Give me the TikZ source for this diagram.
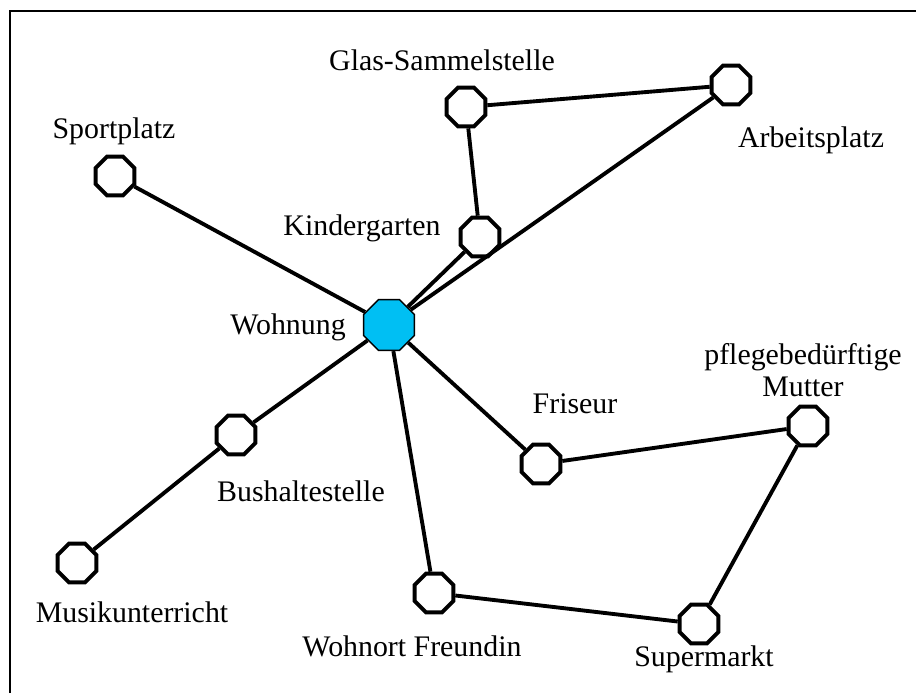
\documentclass[tikz,border=0pt]{standalone}
\usepackage{fontspec}
\setmainfont{Liberation Serif}
\usepackage{xcolor}
\usetikzlibrary{shapes.geometric}

\definecolor{wohnblau}{RGB}{0,191,243}

\begin{document}
\begin{tikzpicture}[x=0.02cm,y=-0.02cm,
    ort/.style={regular polygon,regular polygon sides=8,draw,line width=2.2pt,
      fill=white,minimum size=0.84cm,inner sep=0pt},
    zentrum/.style={regular polygon,regular polygon sides=8,draw=black,line width=0.8pt,
      fill=wohnblau,minimum size=1.1cm,inner sep=0pt},
    weg/.style={line width=2.2pt},
    txt/.style={font=\fontsize{17}{18.5}\selectfont,inner sep=0pt}]
        \def\breite{916}
        \def\hoehe{693}

        \useasboundingbox (0,0) rectangle (\breite,\hoehe);

        %------------------
        % Rahmen
        %------------------
        \draw[line width=1.5pt] (10,\hoehe)--(10,11)--(\breite,11);

        %------------------
        % Orte
        %------------------
        \node[zentrum] (wohnung) at (389,325) {};
        \node[ort] (sport) at (115,176) {};
        \node[ort] (glas) at (466,107) {};
        \node[ort] (arbeit) at (731,85) {};
        \node[ort] (kinder) at (480,237) {};
        \node[ort] (friseur) at (541,464) {};
        \node[ort] (mutter) at (808,426) {};
        \node[ort] (bus) at (236,435) {};
        \node[ort] (musik) at (77,563) {};
        \node[ort] (freundin) at (434,593) {};
        \node[ort] (markt) at (699,624) {};

        %------------------
        % Wege
        %------------------
        \draw[weg] (wohnung)--(sport);
        \draw[weg] (wohnung)--(kinder)--(glas)--(arbeit)--(wohnung);
        \draw[weg] (wohnung)--(friseur)--(mutter)--(markt)--(freundin)--(wohnung);
        \draw[weg] (wohnung)--(bus)--(musik);

        %------------------
        % Beschriftung
        %------------------
        \node[txt] (l-sport) at (114,131) {Sportplatz};
        \node[txt] (l-glas) at (442,60) {Glas-Sammelstelle};
        \node[txt] (l-arbeit) at (811,140) {Arbeitsplatz};
        \node[txt] (l-kinder) at (362,228) {Kindergarten};
        \node[txt] (l-wohnung) at (288,327) {Wohnung};
        \node[txt,align=center] (l-mutter) at (803,370) {pflegebedürftige\\Mutter};
        \node[txt] (l-friseur) at (575,404) {Friseur};
        \node[txt] (l-bus) at (301,491) {Bushaltestelle};
        \node[txt] (l-musik) at (132,612) {Musikunterricht};
        \node[txt] (l-freundin) at (412,646) {Wohnort Freundin};
        \node[txt] (l-markt) at (704,659) {Supermarkt};
      \end{tikzpicture}
\end{document}
